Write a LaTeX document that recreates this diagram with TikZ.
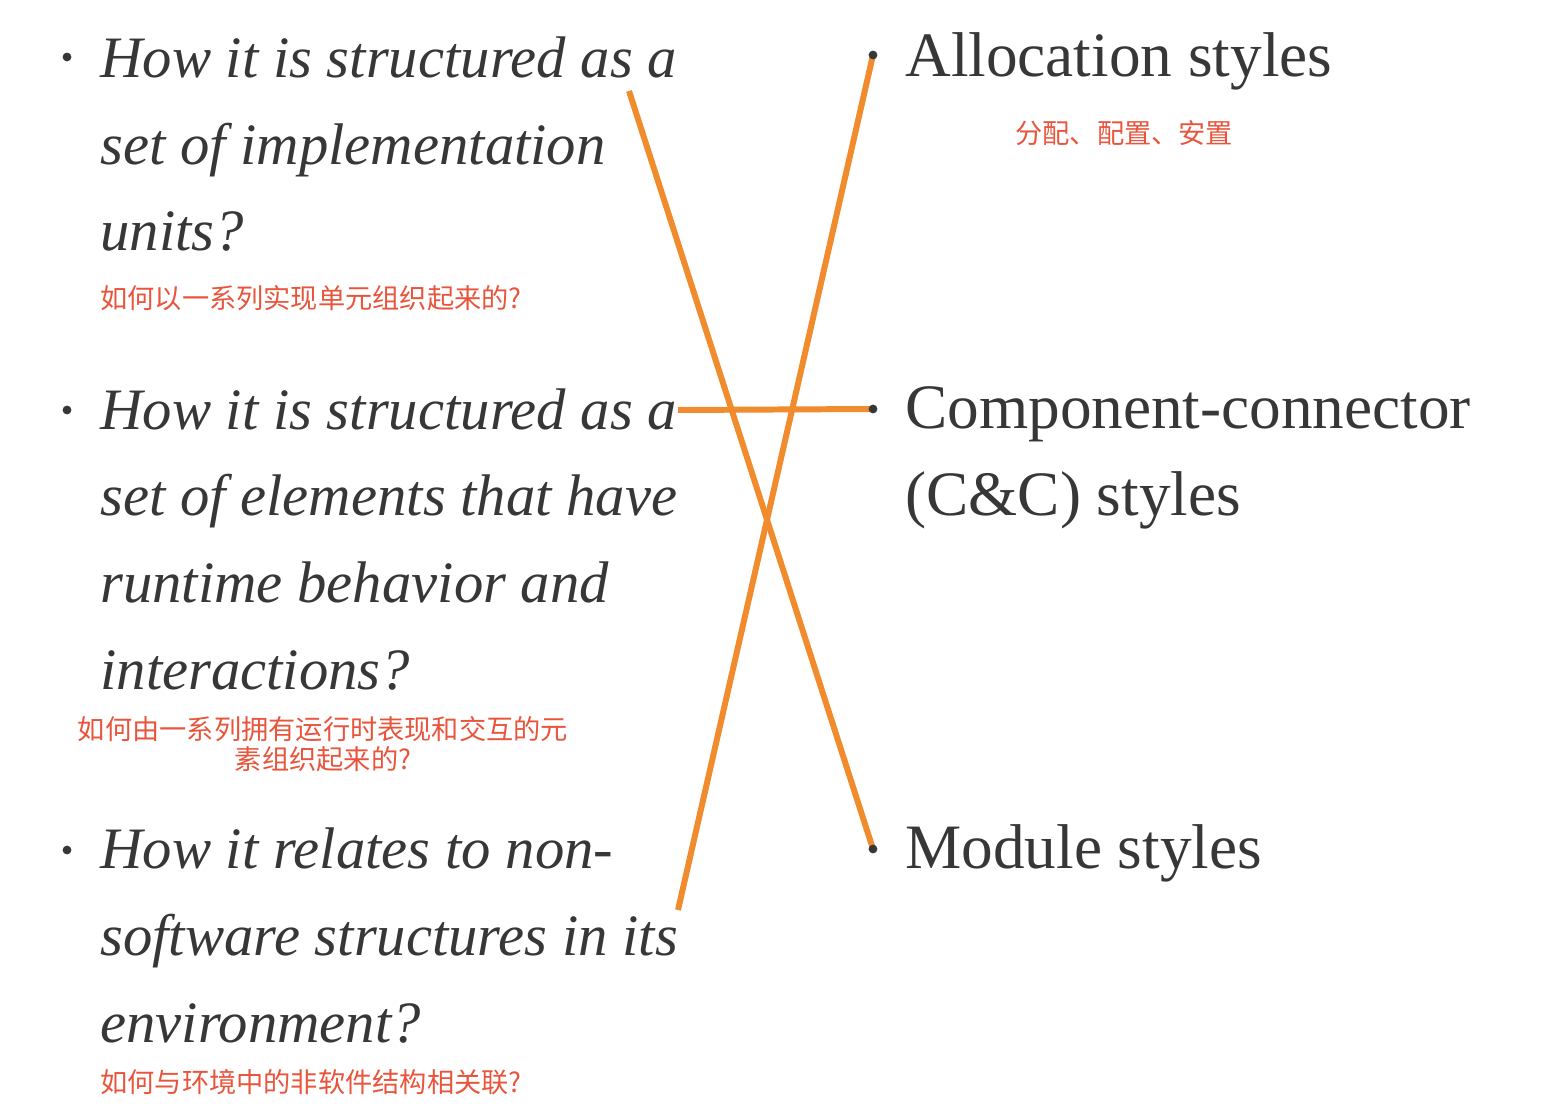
\documentclass[tikz,border=0pt]{standalone}
\usepackage{fontspec}
\setmainfont{Liberation Serif}
\newfontfamily\cjk{Noto Sans CJK SC}
\usetikzlibrary{positioning}
\definecolor{linkorange}{RGB}{240,140,45}
\definecolor{notered}{RGB}{232,85,60}
\definecolor{inkgray}{RGB}{55,55,55}
\tikzset{mapping/.style={
  x=0.02cm,y=-0.02cm,
  line cap=round,line join=round
}}
\tikzset{
  question/.style={anchor=base west,align=left,inner sep=0pt,text=inkgray,
    font=\fontsize{33.4}{49.3}\selectfont\itshape},
  answer/.style={anchor=base west,align=left,inner sep=0pt,text=inkgray,
    font=\fontsize{36}{49.3}\selectfont},
  note/.style={inner sep=0pt,text=notered,align=center,
    font=\cjk\fontsize{15.5}{17}\selectfont},
  bullet/.style={circle,fill=inkgray,inner sep=0pt,minimum size=5pt},
  link/.style={draw=linkorange,line width=3.4pt,line cap=butt}
}

\begin{document}
\begin{tikzpicture}[mapping]
  \useasboundingbox (0,0) rectangle (1544,1114);

  \coordinate (q1end) at (629,91);
  \coordinate (q2end) at (678,410);
  \coordinate (q3end) at (678,910);
  \coordinate (aloc) at (873,55);
  \coordinate (cc) at (873,409);
  \coordinate (modl) at (873,849);

  \draw[link] (q1end) -- (modl);
  \draw[link] (q2end) -- (cc);
  \draw[link] (q3end) -- (aloc);

  \node[bullet] (q1dot) at (67,57) {};
  \node[bullet] (q2dot) at (67,410) {};
  \node[bullet] (q3dot) at (67,850) {};
  \node[bullet] (alocdot) at (aloc) {};
  \node[bullet] (ccdot) at (cc) {};
  \node[bullet] (modldot) at (modl) {};

  \node[question] (q1) at (100,251) {How it is structured as a\\set of implementation\\units?};
  \node[question] (q2) at (100,689) {How it is structured as a\\set of elements that have\\runtime behavior and\\interactions?};
  \node[question] (q3) at (100,1042) {How it relates to non-\\software structures in its\\environment?};

  \node[note,anchor=west] (q1note) at (100,298) {如何以一系列实现单元组织起来的?};
  \node[note] (q2note) at (323,744) {如何由一系列拥有运行时表现和交互的元\\素组织起来的?};
  \node[note,anchor=west] (q3note) at (100,1082) {如何与环境中的非软件结构相关联?};

  \node[answer] (a1) at (905,77) {Allocation styles};
  \node[answer] (a2) at (905,515) {Component-connector\\(C\&C) styles};
  \node[answer] (a3) at (905,868) {Module styles};

  \node[note,anchor=west] (a1note) at (1015,133) {分配、配置、安置};
\end{tikzpicture}
\end{document}
